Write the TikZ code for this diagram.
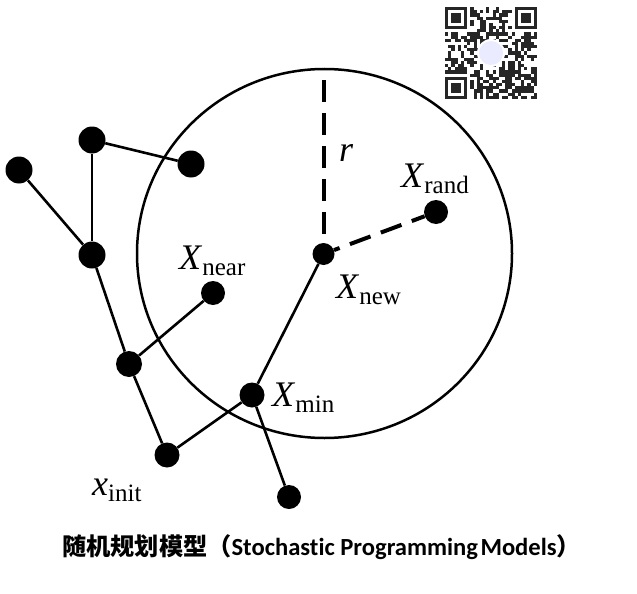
\documentclass[tikz,border=0pt]{standalone}
\usepackage{fontspec}
\setmainfont{Liberation Serif}
\newfontfamily\capfont{Carlito}[Ligatures=NoCommon]
\newfontfamily\cjk{Noto Sans CJK SC}
\newcommand\Xlab[2]{\fontsize{36}{36}\selectfont\textit{#1}\raisebox{-6pt}{\fontsize{25}{25}\selectfont #2}}
\begin{document}
\begin{tikzpicture}[x=1pt,y=-1pt,
  dot/.style={circle,fill=black,draw=none,inner sep=0pt,minimum size=#1},
  dot/.default=24,
  edge/.style={line width=2.6pt,black},
  dashedge/.style={line width=4pt,black,dash pattern=on 22pt off 11pt},
  lab/.style={anchor=base west,inner sep=0pt,text=black}]
\useasboundingbox (0,0) rectangle (637,594);
\fill[white] (0,0) rectangle (637,594);
% QR code approximation
\begin{scope}
\def\qs{3.17}
\pgfmathsetseed{7}
\foreach \i in {0,...,28}{\foreach \j in {0,...,28}{
  \pgfmathrandominteger{\rr}{0}{1}
  \pgfmathtruncatemacro\sk{(\i<8 && \j<8) || (\i>20 && \j<8) || (\i<8 && \j>20)}
  \ifnum\sk=0 \ifnum\rr=1
    \fill[black!85] (445+\i*\qs,7+\j*\qs) rectangle ++(\qs,\qs);
  \fi\fi
}}
\foreach \ox/\oy in {0/0,22/0,0/22}{
  \fill[black!85] (445+\ox*\qs,7+\oy*\qs) rectangle ++(7*\qs,7*\qs);
  \fill[white] (445+\ox*\qs+\qs,7+\oy*\qs+\qs) rectangle ++(5*\qs,5*\qs);
  \fill[black!85] (445+\ox*\qs+2*\qs,7+\oy*\qs+2*\qs) rectangle ++(3*\qs,3*\qs);
}
\fill[white] (491,53) circle (14);
\fill[blue!8] (491,53) circle (12);
\end{scope}
% circle
\draw[line width=2.5pt] (324.5,253.5) ellipse [x radius=187.5, y radius=184.5];
% nodes
\node[dot=27] (A) at (92,140) {};
\node[dot=27] (B) at (19,170) {};
\node[dot=27] (C) at (191,164) {};
\node[dot=27] (D) at (92,255) {};
\node[dot=24] (E) at (213,293) {};
\node[dot=26] (F) at (129,364) {};
\node[dot=25] (G) at (167,455) {};
\node[dot=25] (H) at (252,395) {};
\node[dot=24] (I) at (289,497) {};
\node[dot=22] (N) at (323.5,254) {};
\node[dot=24] (R) at (436,212) {};
\coordinate (T) at (323.5,80);
% edges
\draw[edge] (A) -- (C);
\draw[edge] (A) -- (D);
\draw[edge] (B) -- (D);
\draw[edge] (D) -- (F);
\draw[edge] (F) -- (E);
\draw[edge] (F) -- (G);
\draw[edge] (G) -- (H);
\draw[edge] (H) -- (I);
\draw[edge] (H) -- (N);
\draw[dashedge] (T) -- (N.north);
\draw[dashedge,dash phase=16pt] (N) -- (R);
% labels
\node[lab] (lr) at (339,161) {\fontsize{36}{36}\selectfont\textit{r}};
\node[lab] (lrand) at (401,187) {\Xlab{X}{rand}};
\node[lab] (lnear) at (179,269) {\Xlab{X}{near}};
\node[lab] (lnew) at (336,298) {\Xlab{X}{new}};
\node[lab] (lmin) at (272,406) {\Xlab{X}{min}};
\node[lab] (linit) at (92,495) {\Xlab{x}{init}};
% caption
\node[lab] (cap) at (62,555) {\bfseries{\fontsize{24.2}{24.2}\selectfont\cjk 随机规划模型（}{\fontsize{24.6}{24.6}\selectfont\capfont Stochastic Programming\hspace{0.1em}Models}{\fontsize{24.2}{24.2}\selectfont\cjk ）}};
\end{tikzpicture}
\end{document}
